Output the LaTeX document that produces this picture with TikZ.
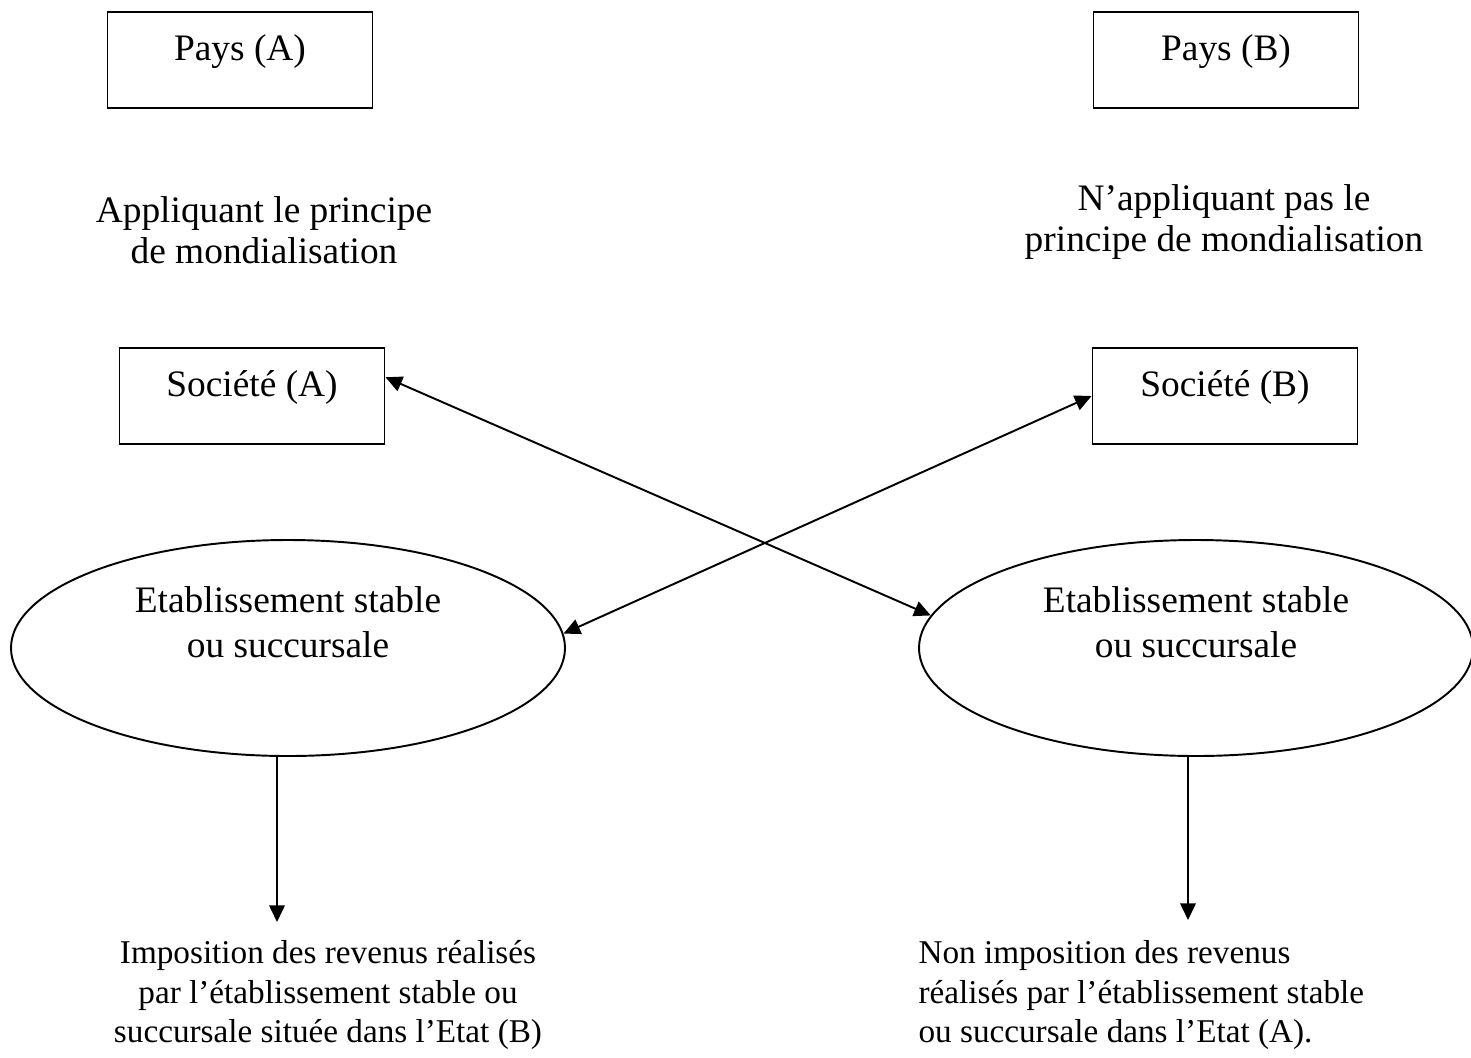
\documentclass[tikz,border=0pt]{standalone}
\usepackage{fontspec}
\setmainfont{Liberation Serif}
\usetikzlibrary{shapes.geometric,arrows.meta}
\newlength\pxu
\setlength\pxu{0.0127cm}

\begin{document}
\begin{tikzpicture}[x=\pxu, y=-\pxu,
    font=\fontsize{12}{14.4}\selectfont,
    large/.style={font=\fontsize{13.5}{15}\selectfont},
    box/.style={large, draw, line width=0.7pt, rectangle, inner sep=0pt,
      minimum width=265\pxu, text height=48\pxu, text depth=48\pxu},
    oval/.style={draw, line width=0.7pt, ellipse, inner sep=0pt, align=center,
      font=\fontsize{13.5}{16.2}\selectfont,
      minimum width=554\pxu, minimum height=216\pxu, text depth=52\pxu},
    note/.style={align=center, inner sep=0pt},
    tip/.style={line width=0.7pt, -{Triangle[length=6pt, width=5.6pt]}},
    both/.style={line width=0.7pt,
      {Triangle[length=6pt, width=5.6pt]}-{Triangle[length=6pt, width=5.6pt]}}
  ]
    \useasboundingbox (0,0) rectangle (1471,1057);

    % Countries
    \node[box] (paysA) at (240,60) {Pays (A)};
    \node[box] (paysB) at (1226,60) {Pays (B)};

    % Principle
    \node[note, large] (princA) at (264,230) {Appliquant le principe\\de mondialisation};
    \node[note, large] (princB) at (1224,222) {N’appliquant pas le\\principe de mondialisation};

    % Companies
    \node[box] (socA) at (252,396) {Société (A)};
    \node[box] (socB) at (1225,396) {Société (B)};

    % Permanent establishments
    \node[oval] (ovalA) at (288,648) {Etablissement stable\\ou succursale};
    \node[oval] (ovalB) at (1196,648) {Etablissement stable\\ou succursale};

    % Taxation
    \node[note] (impA) at (328,995)
      {Imposition des revenus réalisés\\par l’établissement stable ou\\succursale située dans l’Etat (B)};
    \node[note, align=left, anchor=west] (impB) at (918,995)
      {Non imposition des revenus\\réalisés par l’établissement stable\\ou succursale dans l’Etat (A).};

    % Crossing links
    \draw[both] (socA.8) -- (ovalB.173);
    \draw[both] (socB.west) -- (ovalA.3);

    % Down arrows
    \coordinate (endA) at (277,922);
    \coordinate (endB) at (1188,920);
    \draw[tip] (ovalA.south -| endA) -- (endA);
    \draw[tip] (ovalB.south -| endB) -- (endB);
\end{tikzpicture}
\end{document}
